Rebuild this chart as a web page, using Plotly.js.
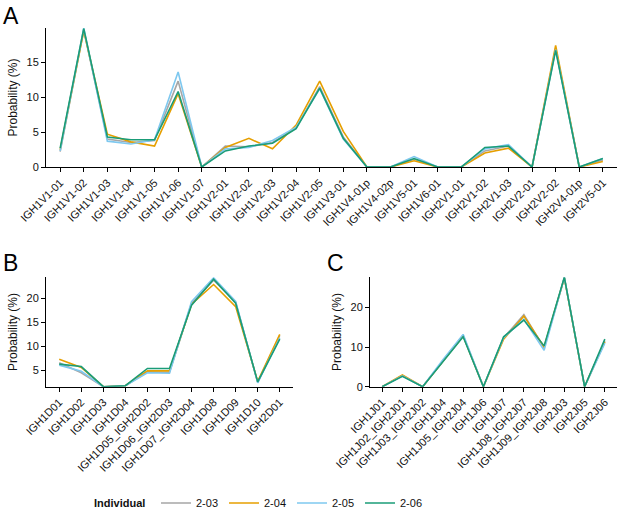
<!DOCTYPE html>
<html>
<head>
<meta charset="utf-8">
<script src="https://cdn.plot.ly/plotly-3.0.1.min.js"></script>
<style>html,body{margin:0;padding:0;background:#fff;}#chart{width:617px;height:508px;}</style>
</head>
<body>
<div id="chart"></div>
<script>
// ---- Data ----
var individuals = ["2-03", "2-04", "2-05", "2-06"];
var seriesColors = ["#a6a6a6", "#E69F00", "#7ec8ef", "#1a9c77"];

var vGenes = ["IGH1V1-01","IGH1V1-02","IGH1V1-03","IGH1V1-04","IGH1V1-05","IGH1V1-06","IGH1V1-07",
  "IGH1V2-01","IGH1V2-02","IGH1V2-03","IGH1V2-04","IGH1V2-05","IGH1V3-01","IGH1V4-01p","IGH1V4-02p",
  "IGH1V5-01","IGH1V6-01","IGH2V1-01","IGH2V1-02","IGH2V1-03","IGH2V2-01","IGH2V2-02","IGH2V4-01p","IGH2V5-01"];
var v_203 = [2.2, 19.6, 4.0, 3.5, 3.8, 12.3, 0, 3.0, 2.9, 3.5, 5.6, 11.5, 4.3, 0, 0, 1.1, 0, 0, 2.3, 3.0, 0, 17.0, 0, 1.0];
var v_204 = [2.5, 19.5, 4.7, 3.6, 3.0, 10.5, 0, 2.8, 4.1, 2.6, 6.0, 12.3, 5.1, 0, 0, 0.9, 0, 0, 2.0, 2.7, 0, 17.4, 0, 0.8];
var v_205 = [2.3, 19.9, 3.7, 3.3, 3.9, 13.6, 0, 2.6, 2.8, 3.8, 5.7, 11.2, 4.0, 0, 0, 1.5, 0, 0, 2.6, 3.2, 0, 16.8, 0, 1.2];
var v_206 = [2.7, 19.8, 4.3, 3.9, 3.9, 10.8, 0, 2.3, 3.0, 3.4, 5.5, 11.3, 4.1, 0, 0, 1.2, 0, 0, 2.8, 3.0, 0, 16.7, 0, 1.2];

var dGenes = ["IGH1D01","IGH1D02","IGH1D03","IGH1D04","IGH1D05_IGH2D02","IGH1D06_IGH2D03",
  "IGH1D07_IGH2D04","IGH1D08","IGH1D09","IGH1D10","IGH2D01"];
var d_203 = [6.6, 4.5, 1.6, 1.8, 4.7, 4.6, 19.0, 23.8, 19.2, 2.5, 12.3];
var d_204 = [7.3, 5.6, 1.6, 1.8, 4.9, 4.9, 18.8, 22.9, 18.3, 2.7, 12.5];
var d_205 = [6.1, 4.8, 1.6, 1.8, 4.5, 4.4, 19.3, 24.3, 19.4, 2.4, 11.8];
var d_206 = [6.3, 5.8, 1.6, 1.8, 5.4, 5.4, 18.6, 24.0, 19.0, 2.6, 11.5];

var jGenes = ["IGH1J01","IGH1J02_IGH2J01","IGH1J03_IGH2J02","IGH1J04","IGH1J05_IGH2J04","IGH1J06",
  "IGH1J07","IGH1J08_IGH2J07","IGH1J09_IGH2J08","IGH2J03","IGH2J05","IGH2J06"];
var j_203 = [0, 2.8, 0, 6.5, 13.0, 0, 12.3, 18.2, 9.8, 27.5, 0, 11.5];
var j_204 = [0, 3.0, 0, 6.4, 12.8, 0, 12.0, 17.8, 10.0, 27.4, 0, 11.3];
var j_205 = [0, 2.7, 0, 6.8, 13.2, 0, 12.4, 17.0, 9.2, 27.6, 0, 11.0];
var j_206 = [0, 2.6, 0, 6.3, 12.6, 0, 12.6, 16.8, 10.3, 27.6, 0, 12.0];

var yTicksA = [0, 5, 10, 15];
var yTicksB = [5, 10, 15, 20];
var yTicksC = [0, 10, 20];

// ---- Build ----
var FONT = "Liberation Sans, Arial, Helvetica, sans-serif";
var panels = [
  {cats: vGenes, vals: [v_203, v_204, v_205, v_206], xa: "x", ya: "y", legend: true},
  {cats: dGenes, vals: [d_203, d_204, d_205, d_206], xa: "x2", ya: "y2", legend: false},
  {cats: jGenes, vals: [j_203, j_204, j_205, j_206], xa: "x3", ya: "y3", legend: false}
];
var traces = [];
panels.forEach(function(p){
  for (var i = 0; i < individuals.length; i++) {
    traces.push({
      type: "scatter", mode: "lines",
      x: p.cats, y: p.vals[i],
      xaxis: p.xa, yaxis: p.ya,
      name: individuals[i], legendgroup: individuals[i],
      showlegend: p.legend,
      line: {color: seriesColors[i], width: 1.6},
      hoverinfo: "skip"
    });
  }
});

function xAxis(domain, n, anchor) {
  return {
    domain: domain, anchor: anchor, type: "category",
    range: [-0.6, n - 0.4], fixedrange: true, automargin: false,
    showline: true, linecolor: "#000", linewidth: 1,
    ticks: "outside", ticklen: 4, tickwidth: 1, tickcolor: "#000",
    tickangle: -45, showgrid: false, zeroline: false,
    tickfont: {family: FONT, size: 11, color: "#111"}
  };
}
function yAxis(domain, range, ticks, anchor) {
  return {
    domain: domain, anchor: anchor, range: range, fixedrange: true, automargin: false,
    tickmode: "array", tickvals: ticks, ticktext: ticks.map(String),
    showline: true, linecolor: "#000", linewidth: 1,
    ticks: "outside", ticklen: 4, tickwidth: 1, tickcolor: "#000",
    showgrid: false, zeroline: false,
    tickfont: {family: FONT, size: 11, color: "#111"},
    title: {text: "Probability (%)", font: {family: FONT, size: 12, color: "#111"}, standoff: 6}
  };
}

var W = 617, H = 508;
var layout = {
  width: W, height: H,
  margin: {l: 0, r: 0, t: 0, b: 0, autoexpand: false},
  paper_bgcolor: "#fff", plot_bgcolor: "#fff",
  font: {family: FONT, color: "#111"},
  xaxis: xAxis([46 / W, 1], vGenes.length, "y"),
  yaxis: yAxis([1 - 167 / H, 1 - 28 / H], [0, 19.9], yTicksA, "x"),
  xaxis2: xAxis([46 / W, 293 / W], dGenes.length, "y2"),
  yaxis2: yAxis([1 - 386.7 / H, 1 - 277.3 / H], [1.6, 24.4], yTicksB, "x2"),
  xaxis3: xAxis([370 / W, 1], jGenes.length, "y3"),
  yaxis3: yAxis([1 - 386.7 / H, 1 - 277.3 / H], [0, 27.6], yTicksC, "x3"),
  showlegend: true,
  legend: {
    orientation: "h", x: 156 / W, xanchor: "left", y: 5 / H, yanchor: "middle",
    itemwidth: 30, entrywidth: 23, entrywidthmode: "pixels",
    font: {family: FONT, size: 11, color: "#111"},
    bgcolor: "rgba(0,0,0,0)", tracegroupgap: 0
  },
  annotations: [
    {text: "<b>Individual</b>", x: 92 / W, y: 5 / H, xref: "paper", yref: "paper", xanchor: "left", yanchor: "middle", showarrow: false, font: {family: FONT, size: 11, color: "#111"}},
    {text: "A", x: 1 / W, y: 1 - 1 / H, xref: "paper", yref: "paper", xanchor: "left", yanchor: "top", showarrow: false, font: {family: FONT, size: 23, color: "#000"}},
    {text: "B", x: 1 / W, y: 1 - 248 / H, xref: "paper", yref: "paper", xanchor: "left", yanchor: "top", showarrow: false, font: {family: FONT, size: 23, color: "#000"}},
    {text: "C", x: 325 / W, y: 1 - 248 / H, xref: "paper", yref: "paper", xanchor: "left", yanchor: "top", showarrow: false, font: {family: FONT, size: 23, color: "#000"}}
  ]
};

Plotly.newPlot("chart", traces, layout, {staticPlot: true, displayModeBar: false});
</script>
</body>
</html>
